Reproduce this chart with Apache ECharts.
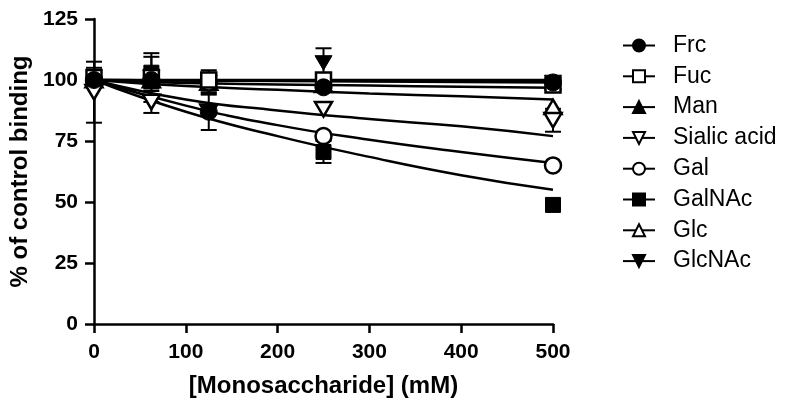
<!DOCTYPE html>
<html><head><meta charset="utf-8">
<script src="https://cdn.jsdelivr.net/npm/echarts@6/dist/echarts.min.js"></script>
<style>html,body{margin:0;padding:0;background:#fff}#c{width:791px;height:412px}</style>
</head><body><div id="c"></div>
<script>
// Measured concentrations (mM)
const concentrations = [0, 62.5, 125, 250, 500];
const names = ['Frc','Fuc','Man','Sialic acid','Gal','GalNAc','Glc','GlcNAc'];
// Mean % of control binding
const meanFrc    = [100, 100, 87, 97, 99];
const meanFuc    = [101, 101, 100, 100, 98];
const meanMan    = [102, 103, 100, 98, 99];
const meanSialic = [95, 91, 87, 88, 83.5];
const meanGal    = [100, 100, 99, 77, 65];
const meanGalNAc = [101, 103, 99, 70.5, 48.8];
const meanGlc    = [100, 100, 99, 98, 89];
const meanGlcNAc = [98, 101, 99, 107, 99];
// Error (SD)
const sdFrc    = [2, 2, 7.5, 2, 1];
const sdFuc    = [3, 3, 3, 3, 1];
const sdMan    = [2, 3, 2, 2, 1];
const sdSialic = [12.5, 4.5, 3, 3, 4.7];
const sdGal    = [3, 3, 3, 3, 1];
const sdGalNAc = [4, 6.5, 4, 4.5, 1];
const sdGlc    = [2, 2, 2, 2, 2];
const sdGlcNAc = [3, 10, 5, 6, 1];
// Fitted curves read at these concentrations
const fitX = [0, 100, 200, 300, 400, 500];
const fitFrc    = [100, 99.8, 99.6, 99.4, 99.2, 99];
const fitFuc    = [100, 98.8, 98.2, 97.7, 97.2, 96.8];
const fitMan    = [100, 99.8, 99.7, 99.6, 99.5, 99.4];
const fitSialic = [100, 92, 87.5, 84, 81, 77];
const fitGal    = [100, 89.5, 81.5, 75.5, 70.5, 66];
const fitGalNAc = [100, 87, 77, 68.5, 61, 55];
const fitGlc    = [100, 97.5, 96, 94.5, 93.3, 92];
const fitGlcNAc = [100, 100, 100, 100, 100, 100];
// Axis ticks
const xTicks = [0, 100, 200, 300, 400, 500];
const yTicks = [0, 25, 50, 75, 100, 125];

const means = [meanFrc, meanFuc, meanMan, meanSialic, meanGal, meanGalNAc, meanGlc, meanGlcNAc];
const sds = [sdFrc, sdFuc, sdMan, sdSialic, sdGal, sdGalNAc, sdGlc, sdGlcNAc];
const fits = [fitFrc, fitFuc, fitMan, fitSialic, fitGal, fitGalNAc, fitGlc, fitGlcNAc];
const DOWN = 'path://M0,0 L20,0 L10,17 Z';
const UP = 'path://M10,0 L20,17 L0,17 Z';
const styles = [
  {symbol:'circle', hollow:false, size:17},
  {symbol:'rect', hollow:true, size:15},
  {symbol:UP, hollow:false, size:17},
  {symbol:DOWN, hollow:true, size:17},
  {symbol:'circle', hollow:true, size:16},
  {symbol:'rect', hollow:false, size:15},
  {symbol:UP, hollow:true, size:17},
  {symbol:DOWN, hollow:false, size:17}
];
const FONT = 'Liberation Sans, Arial, sans-serif';
const series = [];
names.forEach((n, i) => {
  const st = styles[i];
  const item = st.hollow ? {color:'#fff', borderColor:'#000', borderWidth:2.5, opacity:1} : {color:'#000', borderColor:'#000', borderWidth:1, opacity:1};
  series.push({
    name:n, type:'line', smooth:true, showSymbol:false, symbol:st.symbol, symbolSize:st.size - 2, symbolKeepAspect:true,
    data: fitX.map((x, k) => [x, fits[i][k]]),
    lineStyle:{color:'#000', width:2.5}, itemStyle:item, z:2, silent:true, animation:false
  });
  series.push({
    name:n, type:'custom', z:3, animation:false, silent:true,
    data: concentrations.map((x, k) => [x, means[i][k] - sds[i][k], means[i][k] + sds[i][k]]),
    renderItem: (params, api) => {
      const x = api.value(0);
      const lo = api.coord([x, api.value(1)]);
      const hi = api.coord([x, api.value(2)]);
      if (Math.abs(lo[1] - hi[1]) < 16) return null;
      const w = 8;
      return {type:'group', children:[
        {type:'line', shape:{x1:lo[0], y1:lo[1], x2:hi[0], y2:hi[1]}, style:{stroke:'#000', lineWidth:2}},
        {type:'line', shape:{x1:lo[0]-w, y1:lo[1], x2:lo[0]+w, y2:lo[1]}, style:{stroke:'#000', lineWidth:2}},
        {type:'line', shape:{x1:hi[0]-w, y1:hi[1], x2:hi[0]+w, y2:hi[1]}, style:{stroke:'#000', lineWidth:2}}
      ]};
    }
  });
  series.push({
    name:n, type:'scatter', symbol:st.symbol, symbolSize:st.size, symbolKeepAspect:true,
    data: concentrations.map((x, k) => [x, means[i][k]]),
    itemStyle:item, z:20 - i, animation:false
  });
});

const chart = echarts.init(document.getElementById('c'), null, {renderer:'canvas'});
chart.setOption({
  animation:false,
  backgroundColor:'#fff',
  grid:{left:93, right:238, top:19, bottom:88, containLabel:false},
  legend:{
    data:names, orient:'vertical', left:617, top:29, itemWidth:32, itemHeight:15, itemGap:7.8,
    textStyle:{fontFamily:FONT, fontSize:23, color:'#000', lineHeight:20, padding:[0,0,0,13]},
    selectedMode:false
  },
  xAxis:{
    type:'value', min:xTicks[0], max:xTicks[xTicks.length-1], interval:100,
    name:'[Monosaccharide] (mM)', nameLocation:'middle', nameGap:50,
    nameTextStyle:{fontFamily:FONT, fontSize:24, fontWeight:'bold', color:'#000'},
    axisLine:{show:true, lineStyle:{color:'#000', width:2.5}},
    axisTick:{show:true, length:9, lineStyle:{color:'#000', width:2.5}},
    axisLabel:{fontFamily:FONT, fontSize:21, fontWeight:'bold', color:'#000', margin:18},
    splitLine:{show:false}
  },
  yAxis:{
    type:'value', min:yTicks[0], max:yTicks[yTicks.length-1], interval:25,
    name:'% of control binding', nameLocation:'middle', nameGap:62,
    nameTextStyle:{fontFamily:FONT, fontSize:24, fontWeight:'bold', color:'#000'},
    axisLine:{show:true, lineStyle:{color:'#000', width:2.5}},
    axisTick:{show:true, length:9, lineStyle:{color:'#000', width:2.5}},
    axisLabel:{fontFamily:FONT, fontSize:21, fontWeight:'bold', color:'#000', margin:16},
    splitLine:{show:false}
  },
  series: series
});
</script></body></html>
